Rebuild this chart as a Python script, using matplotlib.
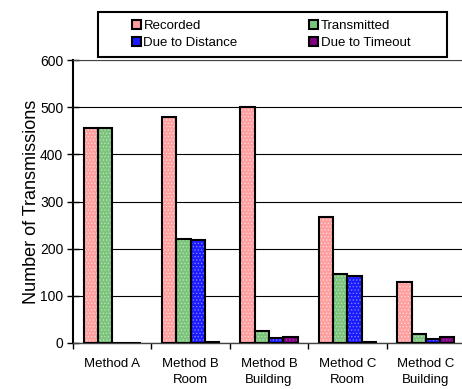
import matplotlib
matplotlib.use("Agg")
import matplotlib.pyplot as plt
import numpy as np
from matplotlib.patches import Patch, Rectangle

plt.rcParams['font.family'] = ['Liberation Sans', 'DejaVu Sans']

categories = ["Method A", "Method B\nRoom", "Method B\nBuilding", "Method C\nRoom", "Method C\nBuilding"]
series_names = ["Recorded", "Transmitted", "Due to Distance", "Due to Timeout"]
recorded = [455, 480, 500, 268, 130]
transmitted = [455, 220, 25, 147, 20]
due_distance = [0, 218, 10, 143, 8]
due_timeout = [0, 2, 12, 3, 13]
yticks = [0, 100, 200, 300, 400, 500, 600]

series = [recorded, transmitted, due_distance, due_timeout]
faces = ["#FF9E9E", "#7CC47C", "#1A1AFF", "#800080"]
hatch_cols = ["#FFD8D8", "#B8E0B8", "#8080FF", "#A040A0"]

fig = plt.figure(figsize=(4.62, 3.89), dpi=100)
ax = fig.add_axes([73/462, 1-343/389, (465-73)/462, (343-60)/389])

x = np.arange(len(categories))
w = 0.182
offsets = (np.arange(4) - 1.5) * w
plt.rcParams['hatch.linewidth'] = 0.6
for i, vals in enumerate(series):
    plt.rcParams['hatch.color'] = hatch_cols[i]
    ax.bar(x + offsets[i], vals, w, color=faces[i], hatch='.....', edgecolor=hatch_cols[i],
           linewidth=0, zorder=3)
    ax.bar(x + offsets[i], vals, w, facecolor='none', edgecolor='black', linewidth=1.5, zorder=4)

ax.set_xlim(-0.5, len(categories) - 0.5)
ax.set_ylim(0, 600)
ax.set_yticks(yticks)
ax.set_yticklabels([str(v) for v in yticks], fontsize=10)
ax.yaxis.grid(True, color='black', linewidth=0.8, zorder=0)
ax.set_axisbelow(True)
ax.set_xticks(np.arange(len(categories) + 1) - 0.5, minor=False)
ax.set_xticklabels([])
ax.set_xticks(x, minor=True)
ax.set_xticklabels(categories, minor=True, fontsize=9.5, linespacing=1.4)
ax.tick_params(axis='x', which='minor', length=0, pad=11)
ax.tick_params(axis='x', which='major', direction='out', length=4, width=1)
ax.tick_params(axis='y', direction='inout', length=8, width=1, pad=3)
ax.spines['right'].set_visible(False)
ax.spines['top'].set_color('#444444')
ax.spines['left'].set_linewidth(1.5)
ax.spines['bottom'].set_linewidth(1.0)
ax.spines['bottom'].set_color('#444444')
ax.set_ylabel("Number of Transmissions", fontsize=13, labelpad=0)

handles = [Patch(facecolor=faces[i], edgecolor='black', linewidth=1.5) for i in range(4)]
order = [0, 2, 1, 3]
leg = fig.legend([handles[k] for k in order], [series_names[k] for k in order], ncol=2, loc='center',
                 bbox_to_anchor=(271/462, 1-34.5/389),
                 frameon=False, fontsize=9.5, handlelength=0.7, handleheight=0.7,
                 handletextpad=0.2, columnspacing=5.4, borderpad=0.0, labelspacing=0.35,
                 borderaxespad=0)
fig.patches.append(Rectangle((98/462, 1-57/389), (447-98)/462, 45/389,
                             transform=fig.transFigure, facecolor='white',
                             edgecolor='black', linewidth=1.5, zorder=-1))

fig.savefig("out.png", dpi=100)
